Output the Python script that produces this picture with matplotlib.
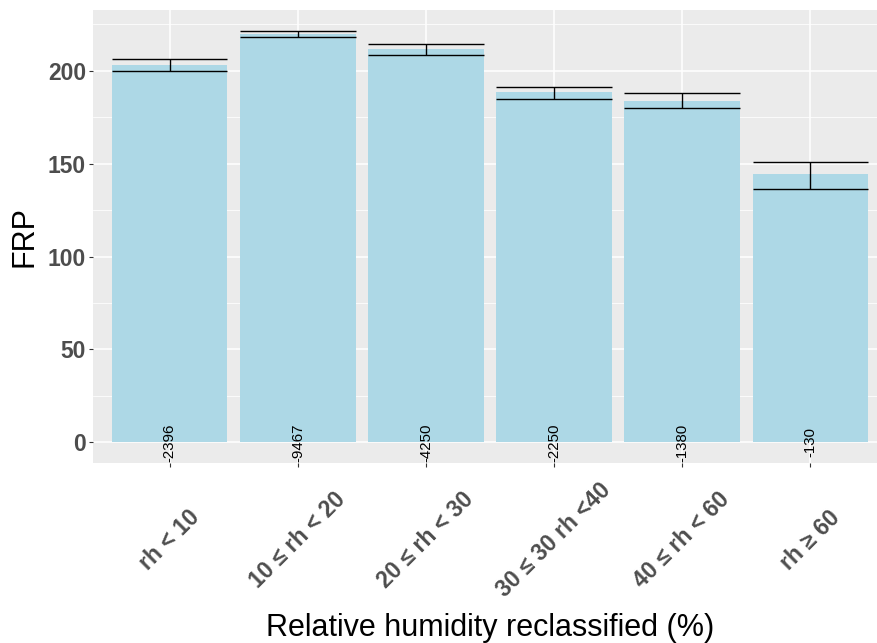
import matplotlib
matplotlib.use("Agg")
import matplotlib.pyplot as plt
from matplotlib.ticker import MultipleLocator
import numpy as np

plt.rcParams['font.family'] = ['Liberation Sans', 'DejaVu Sans']

# values
categories = ["rh < 10", "10 ≤ rh < 20", "20 ≤ rh < 30",
              "30 ≤ 30 rh <40", "40 ≤ rh < 60", "rh ≥ 60"]
frp_mean = [203.2, 220.0, 211.9, 188.3, 183.8, 144.2]
err_low = [200.0, 218.0, 208.6, 185.0, 180.0, 136.4]
err_high = [206.1, 221.6, 214.2, 191.4, 188.1, 150.8]
counts = [2396, 9467, 4250, 2250, 1380, 130]

W, H = 877, 643
fig = plt.figure(figsize=(W / 100, H / 100), dpi=100)
# panel runs a little past the right edge, as in the reference
ax = fig.add_axes([93 / W, 180 / H, 794 / W, 453 / H])

x = np.arange(len(categories))
bar_w = 0.9

ax.set_facecolor('#EBEBEB')
for s in ax.spines.values():
    s.set_visible(False)
ax.set_axisbelow(True)
ax.yaxis.set_major_locator(MultipleLocator(50))
ax.yaxis.set_minor_locator(MultipleLocator(25))
ax.grid(which='major', color='white', linewidth=1.1)
ax.grid(which='minor', axis='y', color='white', linewidth=0.55)

ax.bar(x, frp_mean, width=bar_w, color='#ADD8E6', zorder=2)
ax.hlines(err_low, x - bar_w / 2, x + bar_w / 2, color='black', linewidth=1.0, zorder=3)
ax.hlines(err_high, x - bar_w / 2, x + bar_w / 2, color='black', linewidth=1.0, zorder=3)
ax.vlines(x, err_low, err_high, color='black', linewidth=1.0, zorder=3)

for xi, n in zip(x, counts):
    ax.text(xi, 0, "-" + str(n), rotation=90, ha='center', va='center',
            fontsize=10.8, color='black', zorder=4)

top = max(err_high)
ax.set_ylim(-0.05 * top, 1.05 * top)
ax.set_xlim(-0.6, len(categories) - 0.4)

ax.set_xticks(x)
ax.set_xticklabels(categories, rotation=45, ha='center', va='center',
                   rotation_mode='anchor', fontsize=16.5, fontweight='bold',
                   color='#4D4D4D')
ax.tick_params(axis='x', which='major', length=2.9, width=0.8, color='#333333', pad=52.6)
ax.tick_params(axis='y', which='major', length=2.9, width=0.8, color='#333333', pad=2.2,
               labelsize=16.5, labelcolor='#4D4D4D')
ax.tick_params(axis='y', which='minor', length=0)
for lab in ax.get_yticklabels():
    lab.set_fontweight('bold')

fig.text(24.5 / W, 1 - 237 / H, "FRP", rotation=90, ha='center', va='center', fontsize=22)
fig.text(490 / W, 1 - 636 / H, "Relative humidity reclassified (%)", ha='center',
         va='baseline', fontsize=22)

fig.savefig("out.png", dpi=100)
